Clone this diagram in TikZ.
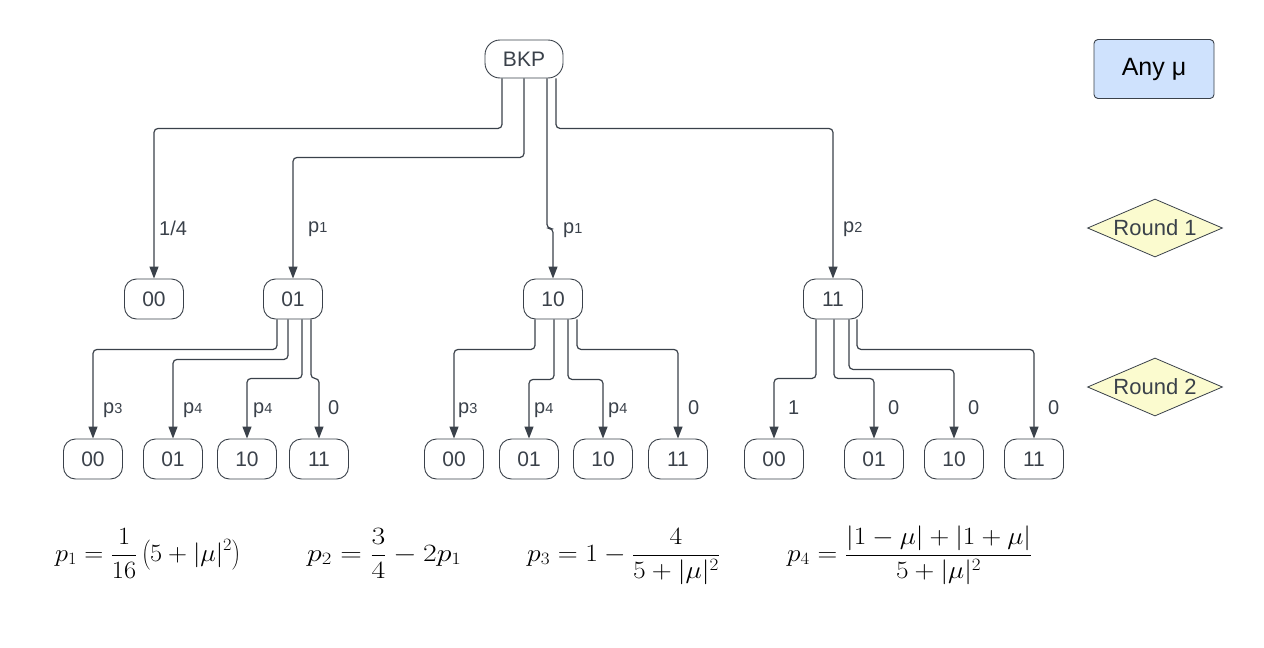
\documentclass[tikz,border=0pt]{standalone}
\usepackage{fontspec}
\setmainfont{Liberation Sans}
\usetikzlibrary{arrows.meta,shapes.geometric}
\definecolor{linec}{HTML}{3A414A}
\definecolor{textc}{HTML}{3A414A}
\definecolor{bluef}{HTML}{CFE2FD}
\definecolor{yelf}{HTML}{FBFBCF}
\newcommand{\pl}[1]{p{\fontsize{14.5}{14}\selectfont #1}}
\begin{document}
\begin{tikzpicture}[x=1pt,y=-1pt,
  st/.style={draw=linec, line width=0.9pt, rounded corners=12pt, minimum width=59pt, minimum height=40pt, inner sep=0pt, text=textc, font=\fontsize{21}{24}\selectfont},
  arr/.style={draw=linec, line width=1.2pt, rounded corners=4pt, -{Triangle[length=12pt,width=9pt]}},
  lbl/.style={anchor=west, inner sep=0pt, text=textc, font=\fontsize{20}{22}\selectfont},
  rnd/.style={diamond, draw=linec, line width=0.8pt, fill=yelf, minimum width=135pt, minimum height=58pt, inner sep=0pt, aspect=2.3, text=textc, font=\fontsize{22}{24}\selectfont},
  frm/.style={anchor=base west, inner sep=0pt, font=\fontsize{25}{29}\selectfont}]
\useasboundingbox (0,0) rectangle (1264,648);
% nodes
\node[st, minimum width=78pt, minimum height=38pt, rounded corners=15pt] (bkp) at (524,59) {BKP};
\node[st] (r00) at (154,299) {00};
\node[st] (r01) at (293,299) {01};
\node[st] (r10) at (553,299) {10};
\node[st] (r11) at (833,299) {11};
\node[st] (a00) at (93,459) {00};
\node[st] (a01) at (173,459) {01};
\node[st] (a10) at (247,459) {10};
\node[st] (a11) at (319,459) {11};
\node[st] (b00) at (454,459) {00};
\node[st] (b01) at (529,459) {01};
\node[st] (b10) at (603,459) {10};
\node[st] (b11) at (678,459) {11};
\node[st] (c00) at (774,459) {00};
\node[st] (c01) at (874,459) {01};
\node[st] (c10) at (954,459) {10};
\node[st] (c11) at (1034,459) {11};
% side legend
\node[draw=linec, line width=0.9pt, fill=bluef, rounded corners=4pt, minimum width=120pt, minimum height=59pt, inner sep=0pt, font=\fontsize{25}{28}\selectfont] (any) at (1154,69) {Any μ};
\node[rnd] (rd1) at (1155,228) {Round 1};
\node[rnd] (rd2) at (1155,387) {Round 2};
% BKP edges
\draw[arr] ([xshift=-22pt]bkp.south) -- ++(0,50) -| (r00.north);
\draw[arr] ([xshift=0pt]bkp.south) -- ++(0,79) -| (r01.north);
\draw[arr] ([xshift=23pt]bkp.south) -- ++(0,150) -| (r10.north);
\draw[arr] ([xshift=32pt]bkp.south) -- ++(0,50) -| (r11.north);
% 01 edges
\draw[arr] ([xshift=-16pt]r01.south) -- ++(0,30) -| (a00.north);
\draw[arr] ([xshift=-5pt]r01.south) -- ++(0,40) -| (a01.north);
\draw[arr] ([xshift=9pt]r01.south) -- ++(0,59) -| (a10.north);
\draw[arr] ([xshift=18pt]r01.south) -- ++(0,59) -| (a11.north);
% 10 edges
\draw[arr] ([xshift=-18pt]r10.south) -- ++(0,30) -| (b00.north);
\draw[arr] ([xshift=1pt]r10.south) -- ++(0,60) -| (b01.north);
\draw[arr] ([xshift=15pt]r10.south) -- ++(0,60) -| (b10.north);
\draw[arr] ([xshift=24pt]r10.south) -- ++(0,30) -| (b11.north);
% 11 edges
\draw[arr] ([xshift=-17pt]r11.south) -- ++(0,59) -| (c00.north);
\draw[arr] ([xshift=1pt]r11.south) -- ++(0,59) -| (c01.north);
\draw[arr] ([xshift=16pt]r11.south) -- ++(0,50) -| (c10.north);
\draw[arr] ([xshift=24pt]r11.south) -- ++(0,30) -| (c11.north);
% labels round 1
\node[lbl] (l1) at (159,228) {1/4};
\node[lbl] (l2) at (308,229) {\pl{1}};
\node[lbl] (l3) at (563,230) {\pl{1}};
\node[lbl] (l4) at (843,229) {\pl{2}};
% labels round 2
\node[lbl] (la1) at (103,410) {\pl{3}};
\node[lbl] (la2) at (183,410) {\pl{4}};
\node[lbl] (la3) at (253,410) {\pl{4}};
\node[lbl] (la4) at (328,408) {0};
\node[lbl] (lb1) at (458,410) {\pl{3}};
\node[lbl] (lb2) at (534,410) {\pl{4}};
\node[lbl] (lb3) at (608,410) {\pl{4}};
\node[lbl] (lb4) at (688,408) {0};
\node[lbl] (lc1) at (788,408) {1};
\node[lbl] (lc2) at (888,408) {0};
\node[lbl] (lc3) at (968,408) {0};
\node[lbl] (lc4) at (1048,408) {0};
% formulas
\node[frm] (f1) at (55,561) {\scalebox{1.06}[1]{$\displaystyle p_1=\frac{1}{16}\left(5+|\mu|^2\right)$}};
\node[frm] (f2) at (307,561) {\scalebox{1.2}[1]{$\displaystyle p_2=\frac{3}{4}-2p_1$}};
\node[frm] (f3) at (527,561) {\scalebox{1.11}[1]{$\displaystyle p_3=1-\frac{4}{5+|\mu|^2}$}};
\node[frm] (f4) at (787,561) {\scalebox{1.1}[1]{$\displaystyle p_4=\frac{|1-\mu|+|1+\mu|}{5+|\mu|^2}$}};
\end{tikzpicture}
\end{document}
